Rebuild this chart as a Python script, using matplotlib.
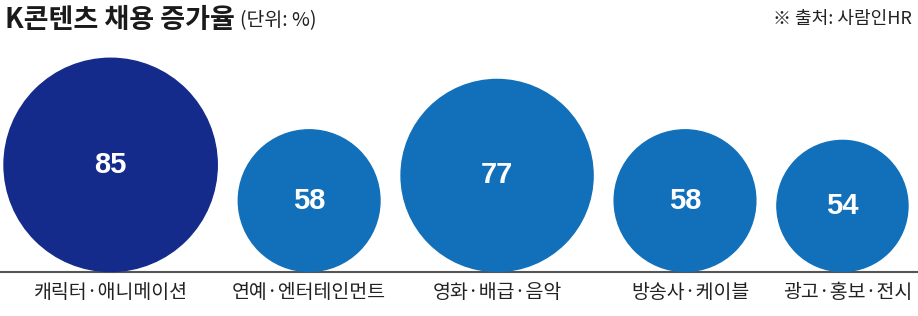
import matplotlib.pyplot as plt
from matplotlib.patches import Circle

plt.rcParams['font.family'] = ['Noto Sans CJK KR', 'DejaVu Sans']

# 데이터
categories = ['캐릭터·애니메이션', '연예·엔터테인먼트', '영화·배급·음악', '방송사·케이블', '광고·홍보·전시']
values = [85, 58, 77, 58, 54]
highlight = 0  # 가장 큰 값 강조

title = 'K콘텐츠 채용 증가율'
unit = '(단위: %)'
source = '※ 출처: 사람인HR'

# 원 지름 (픽셀) = 값에 대한 선형 스케일
def diameter(v):
    return 2.65 * v - 12

fig = plt.figure(figsize=(9.18, 3.16), dpi=100)
ax = fig.add_axes([0, 0, 1, 1])
ax.set_xlim(0, 918)
ax.set_ylim(316, 0)
ax.axis('off')

base_y = 271.5
left, right = 4, 908
diams = [diameter(v) for v in values]
gap = (right - left - sum(diams)) / (len(diams) - 1)

x = left
for i, (cat, v, d) in enumerate(zip(categories, values, diams)):
    cx = x + d / 2
    cy = base_y - d / 2
    color = '#142b8c' if i == highlight else '#1170b9'
    ax.add_patch(Circle((cx, cy), d / 2, color=color, zorder=2))
    ax.text(cx, cy, str(v), ha='center', va='center', color='white',
            fontsize=21, fontweight='bold', family=['Liberation Sans'], zorder=3)
    ax.text(cx + (5 if i >= 3 else 0), 293, cat, ha='center', va='center',
            fontsize=14, color='#222222')
    x += d + gap

# 바닥선
ax.plot([0, 918], [base_y, base_y], color='#555555', lw=1.5, zorder=1)

# 제목, 출처
t = ax.text(5, 20, title, ha='left', va='center', fontsize=19.5,
            fontweight='bold', color='#1a1a1a')
fig.canvas.draw()
bb = t.get_window_extent()
ax.text(bb.x1 + 5, 21, unit, ha='left', va='center', fontsize=14, color='#222222')
ax.text(912, 19, source, ha='right', va='center', fontsize=13, color='#222222')

fig.savefig('out.png', dpi=100)
